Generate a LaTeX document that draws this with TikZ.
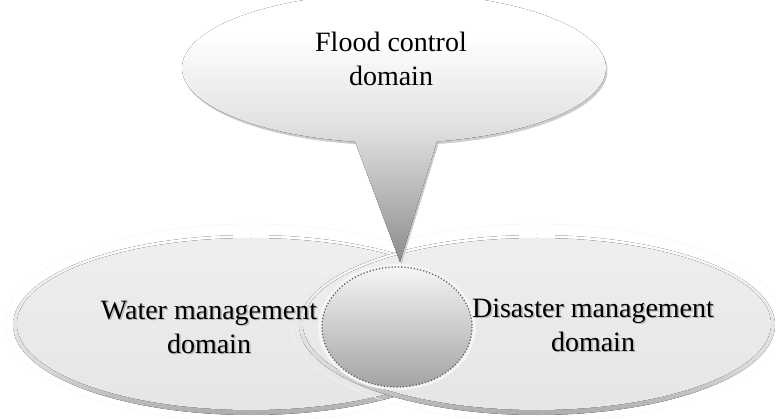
\documentclass[tikz,border=0pt]{standalone}
\usepackage{fontspec}
\setmainfont{Liberation Serif}
\usetikzlibrary{calc}

\definecolor{tipgray}{HTML}{8C8C8C}
\definecolor{neckgray}{HTML}{D2D2D2}
\definecolor{lowgray}{HTML}{E2E2E2}
\definecolor{midgray}{HTML}{F0F0F0}
\definecolor{dotgray}{HTML}{606060}

% callout: 25bp = tail tip, 75bp = top of the bubble
\pgfdeclareverticalshading{calloutshade}{100bp}{%
  color(0bp)=(tipgray); color(25bp)=(tipgray); color(45bp)=(neckgray);
  color(50bp)=(lowgray); color(58bp)=(midgray); color(66bp)=(white);
  color(100bp)=(white)}
% rim of the side ellipses: white on top, grey below
\pgfdeclareverticalshading{rimshade}{100bp}{%
  color(0bp)=(gray!65); color(25bp)=(gray!65); color(38bp)=(gray!30);
  color(60bp)=(gray!12); color(75bp)=(white); color(100bp)=(white)}

\tikzset{
  domaintext/.style={font=\fontsize{28}{34}\selectfont, align=center, inner sep=0pt},
  textshadow/.style={domaintext, text=gray!70, opacity=0.7},
  halo/.style={draw=gray!8, line width=0.5pt},
  rim/.style={shading=rimshade},
  face/.style={top color=gray!13, bottom color=gray!20},
  hub/.style={top color=gray!8, bottom color=gray!72,
    draw=dotgray, line width=1.3pt, dash pattern=on 1.2pt off 2pt},
}

\begin{document}
\begin{tikzpicture}[x=1pt, y=-1pt]
  \useasboundingbox (0,0) rectangle (776,419);

  % left domain
  \draw[halo] (251,323) ellipse [x radius=246, y radius=99];
  \fill[rim] (251,325) ellipse [x radius=238, y radius=90];
  \fill[face] (251,324) ellipse [x radius=234, y radius=86];
  % right domain
  \draw[halo] (537,323) ellipse [x radius=246, y radius=99];
  \fill[rim] (537,325) ellipse [x radius=238, y radius=90];
  \fill[face] (537,324) ellipse [x radius=234, y radius=86];

  % speech-bubble for the flood control domain
  \coordinate (tip) at (400,262);
  \fill[gray!40] ($(tip)+(1.5,2.5)$) -- (356.5,144.2)
    arc[start angle=100.6, end angle=438.3, x radius=212, y radius=75]
    -- cycle;
  \fill[shading=calloutshade] (tip) -- (355,141.7)
    arc[start angle=100.6, end angle=438.3, x radius=212, y radius=75]
    -- cycle;

  % shared centre
  \fill[gray!8] (397,327) ellipse [x radius=79, y radius=63];
  \path[hub] (397,327) ellipse [x radius=75, y radius=60];

  % labels
  \node[domaintext] (flood) at (391,59) {Flood control\\domain};
  \node[textshadow] (waters) at (210.5,328.5) {Water management\\domain};
  \node[domaintext] (water) at (209,327) {Water management\\domain};
  \node[textshadow] (disasters) at (594.5,326.5) {Disaster management\\domain};
  \node[domaintext] (disaster) at (593,325) {Disaster management\\domain};
\end{tikzpicture}
\end{document}
